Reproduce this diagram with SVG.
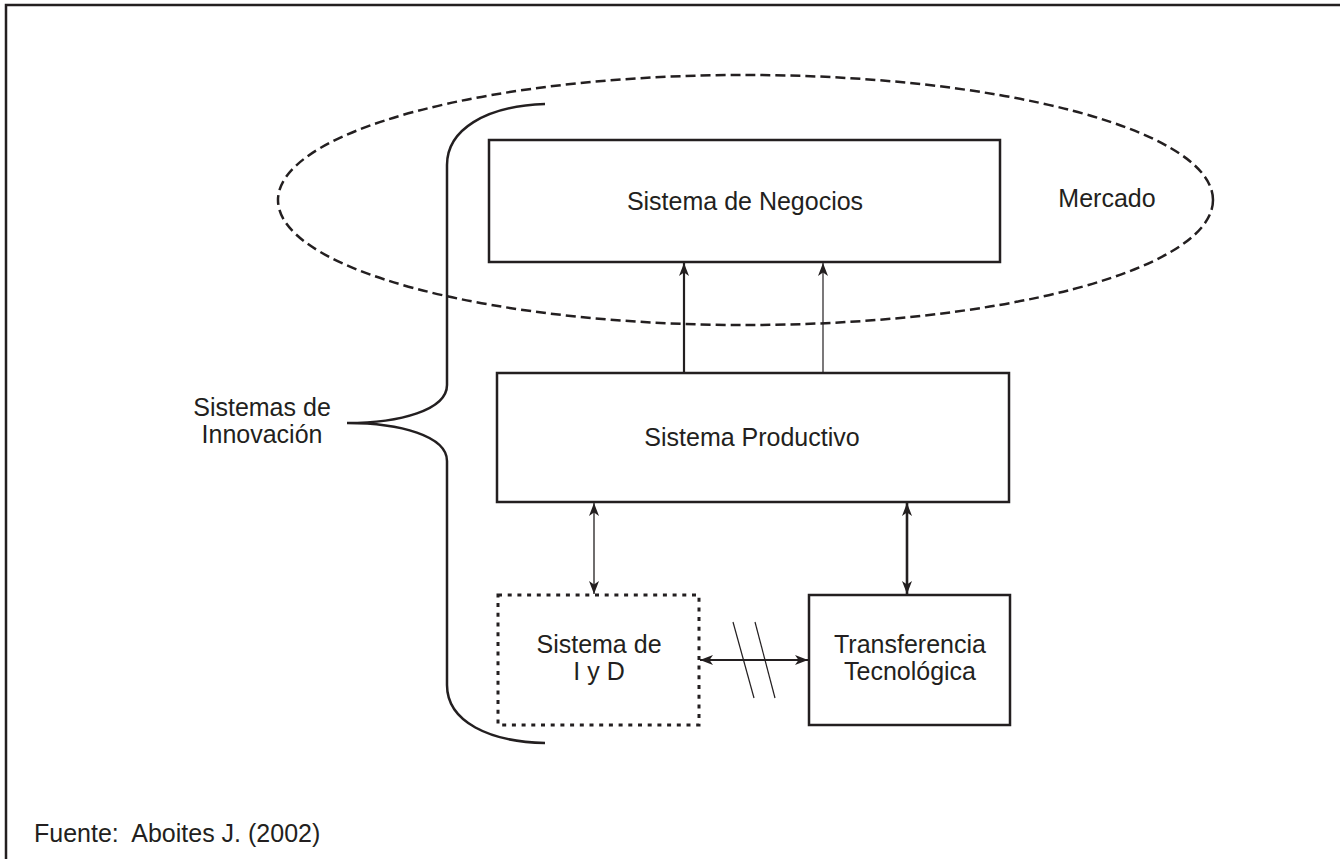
<svg xmlns="http://www.w3.org/2000/svg" width="1340" height="859" viewBox="0 0 1340 859">
  <style>
    text { font-family: "Liberation Sans", Arial, sans-serif; font-size: 25px; fill: #231f20; }
    .c { text-anchor: middle; }
    .box { fill: #ffffff; stroke: #231f20; stroke-width: 2.5; }
    .dotted { fill: none; stroke: #231f20; stroke-width: 3; stroke-dasharray: 4 5.7; }
    .line { fill: none; stroke: #231f20; }
  </style>
  <defs>
    <marker id="head" viewBox="0 0 13 10" refX="13" refY="5" markerWidth="13" markerHeight="10" markerUnits="userSpaceOnUse" orient="auto-start-reverse">
      <path d="M0,0 L13,5 L0,10 L3.5,5 z" fill="#231f20"/>
    </marker>
  </defs>

  <rect width="1340" height="859" fill="#ffffff"/>
  <!-- frame -->
  <path d="M6,859 L6,5 L1340,5" fill="none" stroke="#231f20" stroke-width="2.5"/>

  <!-- market ellipse -->
  <g id="mercado">
    <ellipse cx="745.5" cy="200" rx="467.5" ry="125" fill="none" stroke="#231f20" stroke-width="2.5" stroke-dasharray="10 5"/>
    <text x="1107" y="207" class="c">Mercado</text>
  </g>

  <!-- brace -->
  <g id="sistemas-innovacion">
    <path class="line" stroke-width="2.5" d="M545,104 C485,106 447,130 447,165 L447,385 C447,410 400,423 347,423 C400,423 447,436 447,461 L447,685 C447,722 490,742 545,743"/>
    <text x="262" y="416" class="c">Sistemas de</text>
    <text x="262" y="443" class="c">Innovación</text>
  </g>

  <g id="negocios">
    <rect class="box" x="489" y="140" width="511" height="122"/>
    <text x="745" y="210" class="c">Sistema de Negocios</text>
  </g>

  <g id="productivo">
    <rect class="box" x="497" y="373" width="512" height="129"/>
    <text x="752" y="446" class="c">Sistema Productivo</text>
  </g>

  <g id="iyd">
    <rect class="dotted" x="498" y="595" width="201" height="130"/>
    <text x="599" y="653" class="c">Sistema de</text>
    <text x="599" y="680" class="c">I y D</text>
  </g>

  <g id="transferencia">
    <rect class="box" x="809" y="595" width="201" height="130"/>
    <text x="910" y="653" class="c">Transferencia</text>
    <text x="910" y="680" class="c">Tecnológica</text>
  </g>

  <!-- connectors -->
  <g id="connectors">
    <line class="line" x1="684" y1="373" x2="684" y2="263" stroke-width="2.2" marker-end="url(#head)"/>
    <line class="line" x1="823" y1="373" x2="823" y2="263" stroke-width="1.2" marker-end="url(#head)"/>
    <line class="line" x1="594" y1="503" x2="594" y2="594" stroke-width="1.3" marker-start="url(#head)" marker-end="url(#head)"/>
    <line class="line" x1="907" y1="503" x2="907" y2="594" stroke-width="2.6" marker-start="url(#head)" marker-end="url(#head)"/>
    <line class="line" x1="700" y1="660" x2="808" y2="660" stroke-width="2.2" marker-start="url(#head)" marker-end="url(#head)"/>
    <line class="line" x1="733" y1="622" x2="754" y2="698" stroke-width="1.2"/>
    <line class="line" x1="755" y1="622" x2="775" y2="698" stroke-width="1.2"/>
  </g>

  <text x="34" y="842" xml:space="preserve">Fuente:  Aboites J. (2002)</text>
</svg>
